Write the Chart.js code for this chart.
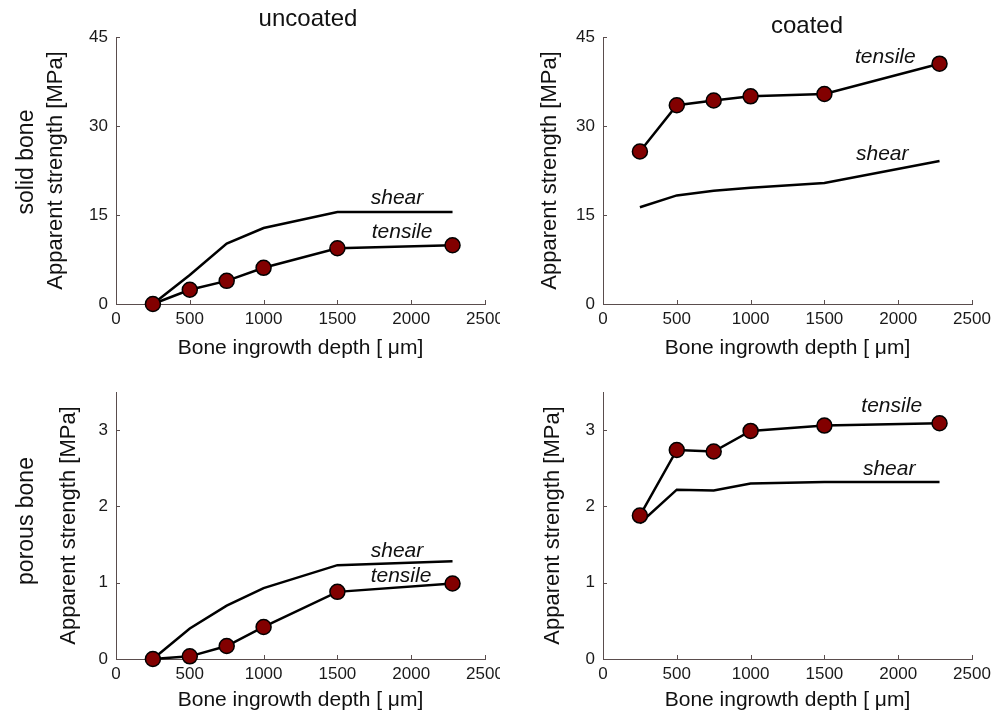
<!DOCTYPE html>
<html>
<head>
<meta charset="utf-8">
<script src="https://cdn.jsdelivr.net/npm/chart.js@4/dist/chart.umd.min.js"></script>
<style>
  body { margin: 0; background: #fff; width: 1001px; height: 713px; position: relative; overflow: hidden;
         font-family: "Liberation Sans", Arial, sans-serif; }
  .panel { position: absolute; }
  .panel.right { background: #fff; }
  .colTitle { position: absolute; font-size: 24px; line-height: 24px; color: #111; transform: translateX(-50%); white-space: nowrap; }
  .rowTitle { position: absolute; font-size: 23px; line-height: 24px; color: #111; white-space: nowrap;
              transform: translate(-50%, -50%) rotate(-90deg); }
</style>
</head>
<body>
<canvas id="tl" class="panel" width="510" height="360" style="left:0;top:0"></canvas>
<canvas id="bl" class="panel" width="510" height="353" style="left:0;top:360px"></canvas>
<canvas id="tr" class="panel right" width="501" height="360" style="left:500px;top:0"></canvas>
<canvas id="br" class="panel right" width="501" height="353" style="left:500px;top:360px"></canvas>

<div class="colTitle" style="left:308px;top:6px">uncoated</div>
<div class="colTitle" style="left:807px;top:13px">coated</div>
<div class="rowTitle" style="left:25px;top:162px">solid bone</div>
<div class="rowTitle" style="left:25px;top:521px">porous bone</div>

<script>
// profundidad de crecimiento oseo [um]
const depth = [250, 500, 750, 1000, 1500, 2280];

const solidUncoatedTensile = [0, 2.4, 3.9, 6.1, 9.4, 9.9];
const solidUncoatedShear   = [0, 4.9, 10.2, 12.8, 15.5, 15.5];
const solidCoatedTensile   = [25.7, 33.5, 34.3, 35.0, 35.4, 40.5];
const solidCoatedShear     = [16.3, 18.3, 19.1, 19.6, 20.4, 24.1];

const porousUncoatedTensile = [0, 0.035, 0.17, 0.42, 0.88, 0.99];
const porousUncoatedShear   = [0, 0.40, 0.70, 0.93, 1.23, 1.28];
const porousCoatedTensile   = [1.88, 2.74, 2.72, 2.99, 3.06, 3.09];
const porousCoatedShear     = [1.78, 2.22, 2.21, 2.30, 2.32, 2.32];

const xTicks = [0, 500, 1000, 1500, 2000, 2500];
const yTicksSolid = [0, 15, 30, 45];
const yTicksPorous = [0, 1, 2, 3];

// etiquetas en coordenadas de datos: [texto, x, y]
const labelsTL = [["shear", 1904, 17.9], ["tensile", 1938, 12.1]];
const labelsTR = [["tensile", 1913, 41.6], ["shear", 1892, 25.2]];
const labelsBL = [["shear", 1904, 1.41], ["tensile", 1931, 1.09]];
const labelsBR = [["tensile", 1956, 3.32], ["shear", 1939, 2.49]];

Chart.defaults.font.family = '"Liberation Sans", Arial, sans-serif';
const axisColor = '#5a4d4d';

// marcas de escala hacia adentro, estilo matlab
const marcas = {
    id: 'marcas',
    beforeDatasetsDraw(chart) {
        const ctx = chart.ctx;
        const {x, y} = chart.scales;
        ctx.save();
        ctx.strokeStyle = axisColor;
        ctx.lineWidth = 1;
        ctx.beginPath();
        for (const t of x.ticks) {
            const px = Math.round(x.getPixelForValue(t.value)) + 0.5;
            ctx.moveTo(px, y.bottom);
            ctx.lineTo(px, y.bottom - 4);
        }
        for (const t of y.ticks) {
            const py = Math.round(y.getPixelForValue(t.value)) + 0.5;
            ctx.moveTo(x.left, py);
            ctx.lineTo(x.left + 4, py);
        }
        ctx.stroke();
        ctx.restore();
    }
};

const anotaciones = {
    id: 'anotaciones',
    afterDraw(chart, args, opts) {
        const ctx = chart.ctx;
        const {x, y} = chart.scales;
        ctx.save();
        ctx.font = 'italic 21px "Liberation Sans", Arial, sans-serif';
        ctx.fillStyle = '#111';
        ctx.textAlign = 'center';
        ctx.textBaseline = 'middle';
        for (const [txt, vx, vy] of opts.items) {
            ctx.fillText(txt, x.getPixelForValue(vx), y.getPixelForValue(vy));
        }
        ctx.restore();
    }
};

function serie(values) {
    return depth.map((d, i) => ({x: d, y: values[i]}));
}

function crearPanel(id, cfg) {
    return new Chart(document.getElementById(id), {
        type: 'line',
        data: {
            datasets: [
                {
                    label: 'tensile',
                    data: serie(cfg.tensile),
                    borderColor: '#000',
                    borderWidth: 2.5,
                    pointRadius: 7.5,
                    pointHoverRadius: 7.5,
                    pointBackgroundColor: '#820000',
                    pointBorderColor: '#000',
                    pointBorderWidth: 1.5,
                    clip: false
                },
                {
                    label: 'shear',
                    data: serie(cfg.shear),
                    borderColor: '#000',
                    borderWidth: 2.5,
                    pointRadius: 0,
                    clip: false
                }
            ]
        },
        options: {
            responsive: false,
            animation: false,
            events: [],
            layout: { padding: { top: cfg.top, right: cfg.right, left: 0, bottom: 0 } },
            plugins: {
                legend: { display: false },
                tooltip: { enabled: false },
                anotaciones: { items: cfg.labels }
            },
            scales: {
                x: {
                    type: 'linear',
                    min: 0,
                    max: 2500,
                    afterBuildTicks: s => { s.ticks = xTicks.map(v => ({value: v})); },
                    afterFit: s => { s.height = cfg.xHeight; },
                    grid: { display: false, drawTicks: false },
                    border: { display: true, color: axisColor, width: 1 },
                    ticks: { padding: 5, color: '#1a1a1a', font: { size: 17 }, maxRotation: 0, autoSkip: false,
                             callback: v => String(v) },
                    title: {
                        display: true,
                        text: 'Bone ingrowth depth [ μm]',
                        color: '#111',
                        font: { size: 21, lineHeight: 1 },
                        padding: { top: 0, bottom: cfg.xTitlePad }
                    }
                },
                y: {
                    type: 'linear',
                    min: 0,
                    max: cfg.yMax,
                    afterBuildTicks: s => { s.ticks = cfg.yTicks.map(v => ({value: v})); },
                    afterFit: s => { s.width = cfg.yWidth; },
                    grid: { display: false, drawTicks: false },
                    border: { display: true, color: axisColor, width: 1 },
                    ticks: { padding: 8, color: '#1a1a1a', font: { size: 17 }, callback: v => String(v) },
                    title: {
                        display: true,
                        text: 'Apparent strength [MPa]',
                        color: '#111',
                        font: { size: 22, lineHeight: 1 },
                        padding: { top: cfg.yTitlePad, bottom: 0 }
                    }
                }
            }
        },
        plugins: [marcas, anotaciones]
    });
}

crearPanel('tl', { tensile: solidUncoatedTensile, shear: solidUncoatedShear, labels: labelsTL,
    yMax: 45, yTicks: yTicksSolid, top: 37, right: 25, yWidth: 116, xHeight: 56, yTitlePad: 45, xTitlePad: 1.5 });
crearPanel('bl', { tensile: porousUncoatedTensile, shear: porousUncoatedShear, labels: labelsBL,
    yMax: 3.5, yTicks: yTicksPorous, top: 32, right: 25, yWidth: 116, xHeight: 54, yTitlePad: 58, xTitlePad: 2.5 });
crearPanel('tr', { tensile: solidCoatedTensile, shear: solidCoatedShear, labels: labelsTR,
    yMax: 45, yTicks: yTicksSolid, top: 37, right: 29, yWidth: 103, xHeight: 56, yTitlePad: 39, xTitlePad: 1.5 });
crearPanel('br', { tensile: porousCoatedTensile, shear: porousCoatedShear, labels: labelsBR,
    yMax: 3.5, yTicks: yTicksPorous, top: 32, right: 29, yWidth: 103, xHeight: 54, yTitlePad: 42, xTitlePad: 2.5 });
</script>
</body>
</html>
